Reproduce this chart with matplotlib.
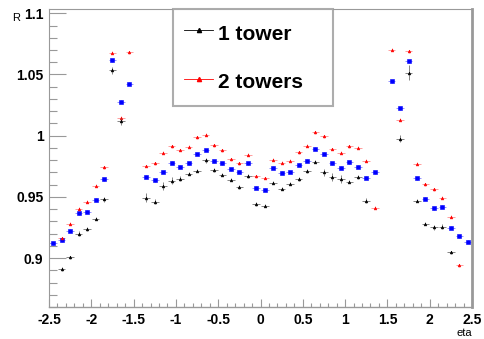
import numpy as np
import matplotlib
matplotlib.use("Agg")
import matplotlib.pyplot as plt
from matplotlib.lines import Line2D
from matplotlib.ticker import MultipleLocator

plt.rcParams['font.family'] = ['Liberation Sans', 'DejaVu Sans']

nan = np.nan
eta = np.round(np.arange(-2.45, 2.5, 0.1), 2)

# 1 tower (black)
r_one = [nan, 0.891, 0.9005, 0.920, 0.9236, 0.9323, 0.948, 1.0533, 1.0117, nan,
         nan, 0.9494, 0.9462, 0.9589, 0.9633, 0.9649, 0.969, 0.9715, 0.9799, 0.9717,
         0.9682, 0.9641, 0.9581, 0.9668, 0.9442, 0.9429, 0.9617, 0.9568, 0.9609, 0.9646,
         0.9711, 0.9788, 0.9701, 0.9662, 0.9646, 0.9625, 0.9662, 0.9467, nan, nan,
         nan, 0.9975, 1.0514, 0.947, 0.9282, 0.9252, 0.9255, 0.9046, nan, nan]
e_one = [0, 0.0015, 0.0015, 0.002, 0.0015, 0.0015, 0.002, 0.003, 0.003, 0,
         0, 0.004, 0.002, 0.003, 0.003, 0.002, 0.0015, 0.0015, 0.002, 0.0015,
         0.0015, 0.0015, 0.0015, 0.0015, 0.0015, 0.0015, 0.0015, 0.0015, 0.0015, 0.0015,
         0.0015, 0.0015, 0.003, 0.003, 0.003, 0.0015, 0.002, 0.002, 0, 0,
         0, 0.003, 0.006, 0.0015, 0.0015, 0.002, 0.002, 0.0015, 0, 0]

# unlabeled (blue)
r_blue = [0.9119, 0.9146, 0.9225, 0.9366, 0.9377, 0.9478, 0.9644, 1.0617, 1.0277, 1.0424,
          nan, 0.9666, 0.9635, 0.9703, 0.978, 0.9747, 0.9774, 0.985, 0.9883, 0.979,
          0.9774, 0.9725, 0.9706, 0.9774, 0.9576, 0.956, 0.9739, 0.9698, 0.9703, 0.9763,
          0.9796, 0.9894, 0.9853, 0.9774, 0.9739, 0.9782, 0.9747, 0.9657, 0.9701, nan,
          1.0445, 1.0225, 1.0609, 0.9652, 0.9486, 0.9407, 0.9418, 0.9246, 0.9179, 0.9135]

# 2 towers (red)
r_two = [nan, 0.916, 0.9282, 0.9404, 0.9462, 0.9589, 0.9741, 1.0677, 1.0147, 1.068,
         nan, 0.9752, 0.9774, 0.9861, 0.9913, 0.9883, 0.991, 0.9986, 1.0008, 0.9923,
         0.988, 0.9809, 0.9774, 0.9845, 0.967, 0.9654, 0.9804, 0.978, 0.9796, 0.9864,
         0.9918, 1.0027, 0.9994, 0.9891, 0.9861, 0.9915, 0.9902, 0.9796, 0.9413, nan,
         1.0701, 1.013, 1.069, 0.9772, 0.9603, 0.9562, 0.9494, 0.9336, 0.894, nan]

fig = plt.figure(figsize=(4.84, 3.39), dpi=100)
ax = fig.add_axes([49 / 484, 1 - 307 / 339, 423 / 484, 298 / 339])

ax.errorbar(eta, r_one, xerr=0.045, yerr=e_one, fmt='^', color='black', ms=2,
            mew=0.4, elinewidth=0.5, ecolor='#555555', capsize=0, zorder=3)
ax.errorbar(eta, r_blue, xerr=0.045, yerr=0.0012, fmt='s', color='blue', ms=2.5,
            mew=0.4, elinewidth=0.5, ecolor='#6666ff', capsize=0, zorder=2)
ax.errorbar(eta, r_two, xerr=0.045, yerr=0.0012, fmt='^', color='red', ms=2,
            mew=0.4, elinewidth=0.5, ecolor='#ff7777', capsize=0, zorder=2)

ax.set_xlim(-2.5, 2.5)
ax.set_ylim(0.86, 1.1035)
ax.xaxis.set_minor_locator(MultipleLocator(0.1))
ax.yaxis.set_minor_locator(MultipleLocator(0.01))
ax.set_xticks([-2.5, -2, -1.5, -1, -0.5, 0, 0.5, 1, 1.5, 2, 2.5])
ax.set_xticklabels(['-2.5', '-2', '-1.5', '-1', '-0.5', '0', '0.5', '1', '1.5', '2', '2.5'])
ax.set_yticks([0.9, 0.95, 1.0, 1.05, 1.1])
ax.set_yticklabels(['0.9', '0.95', '1', '1.05', '1.1'])

ax.tick_params(axis='x', which='major', direction='in', length=6, width=0.8,
               color='#999999', labelsize=10, pad=4)
ax.tick_params(axis='x', which='minor', direction='in', length=3, width=0.8,
               color='#999999')
ax.tick_params(axis='y', which='major', direction='in', length=12, width=0.8,
               color='#999999', labelsize=10, pad=4)
ax.tick_params(axis='y', which='minor', direction='in', length=6, width=0.8,
               color='#999999')
for lab in ax.get_xticklabels() + ax.get_yticklabels():
    lab.set_fontweight('bold')
for side in ['left', 'bottom', 'top', 'right']:
    ax.spines[side].set_color('#999999')
ax.spines['right'].set_linewidth(2)
ax.spines['bottom'].set_linewidth(1)

fig.text(12 / 484, 1 - 18 / 339, 'R', fontsize=8, ha='left', va='center')
fig.text(472 / 484, 1 - 333 / 339, 'eta', fontsize=8, ha='right', va='center')

handles = [Line2D([], [], color='black', marker='^', ms=3, lw=0.6),
           Line2D([], [], color='red', marker='^', ms=3, lw=0.6)]
leg = ax.legend(handles, ['1 tower', '2 towers'], loc='upper left',
                bbox_to_anchor=(173 / 484, 1 - 104 / 339, 160 / 484, 95 / 339),
                bbox_transform=fig.transFigure, mode='expand',
                prop={'weight': 'bold', 'size': 15}, frameon=True, fancybox=False,
                shadow=False, handlelength=1.35, handletextpad=0.25,
                handleheight=1.5, labelspacing=1.1, borderpad=0.55,
                borderaxespad=0)
leg.get_frame().set_edgecolor('#999999')
leg.get_frame().set_linewidth(1.5)

fig.savefig('out.png', dpi=100)
